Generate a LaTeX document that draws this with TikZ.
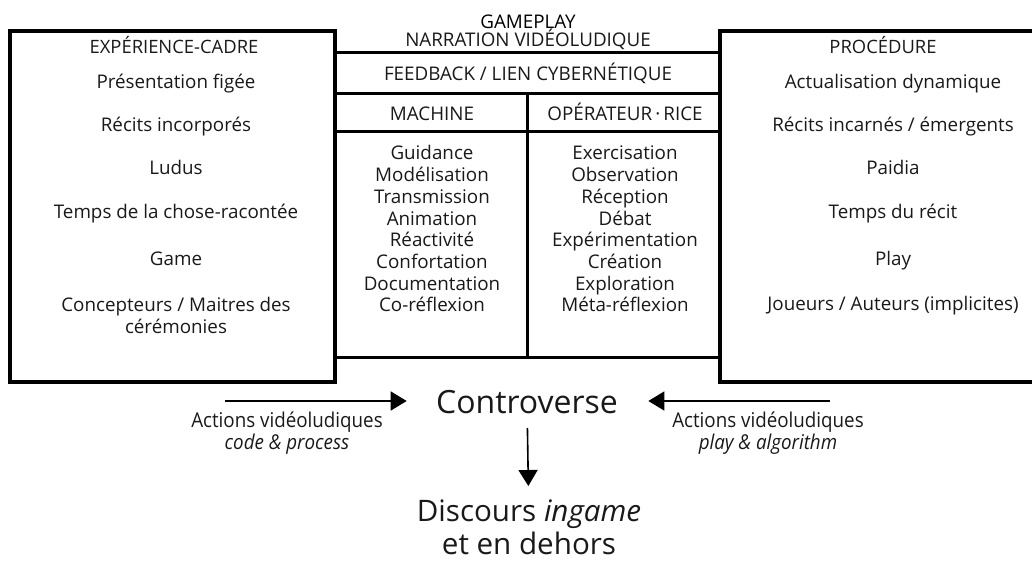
\documentclass[tikz,border=0pt]{standalone}
\usepackage{fontspec}
\setmainfont{Open Sans}
\newfontfamily\condfont[FakeStretch=0.92]{Open Sans}
\usetikzlibrary{arrows.meta,positioning}
\tikzstyle{frame} = [line width=2pt]
\tikzstyle{rule}  = [line width=1.5pt]
\tikzstyle{item}  = [inner sep=0pt, text=black!90, text height=8.5pt, text depth=1.5pt, font=\fontsize{9.4}{10.85}\selectfont]
\tikzstyle{head}  = [item, font=\fontsize{9.2}{10}\selectfont]
\tikzstyle{act}   = [inner sep=0pt, text=black!90, align=center, font=\condfont\fontsize{10.2}{10}\selectfont]
\tikzstyle{big}   = [inner sep=0pt, text=black!90, align=center, font=\fontsize{16}{16.5}\selectfont]
\tikzstyle{arrow} = [line width=0.8pt, -{Triangle[length=8pt,width=9.5pt]}]

\begin{document}
\begin{tikzpicture}[x=0.5pt,y=-0.5pt]
	\useasboundingbox (0,0) rectangle (1032,561);
	\clip (0,0) rectangle (1032,561);
	% frames
	\draw[frame] (10,31) rectangle (335,382);
	\draw[frame] (720,31) rectangle (1080,382);
	\foreach \y in {53,94,132,357}
		\draw[rule] (335,\y) -- (720,\y);
	\draw[rule] (527,94) -- (527,357);
	% middle headers
	\node[item, text=black] (gameplay) at (528,22) {GAMEPLAY};
	\node[item] (narration) at (528,40) {NARRATION VIDÉOLUDIQUE};
	\node[item] (feedback) at (528,74) {FEEDBACK / LIEN CYBERNÉTIQUE};
	\node[item] (machine) at (432,114) {MACHINE};
	\node[item] (operateur) at (625,114) {OPÉRATEUR\,·\,RICE};
	\foreach \w [count=\i from 0] in {Guidance,Modélisation,Transmission,Animation,
			Réactivité,Confortation,Documentation,Co-réflexion}
		\node[item] (m\i) at (432,153+21.7*\i) {\w};
	\foreach \w [count=\i from 0] in {Exercisation,Observation,Réception,Débat,
			Expérimentation,Création,Exploration,Méta-réflexion}
		\node[item] (o\i) at (625,153+21.7*\i) {\w};
	% left box
	\node[head] (cadre) at (174,47) {EXPÉRIENCE-CADRE};
	\node[item] (l1) at (176,82) {Présentation figée};
	\node[item] (l2) at (176,125) {Récits incorporés};
	\node[item] (l3) at (176,168) {Ludus};
	\node[item] (l4) at (176,212) {Temps de la chose-racontée};
	\node[item] (l5) at (176,258) {Game};
	\node[item, align=center] (l6) at (176,326) {Concepteurs / Maitres des\\cérémonies};
	% right box
	\node[head] (procedure) at (883,47) {PROCÉDURE};
	\node[item] (r1) at (893,82) {Actualisation dynamique};
	\node[item] (r2) at (893,125) {Récits incarnés / émergents};
	\node[item] (r3) at (893,168) {Paidia};
	\node[item] (r4) at (893,212) {Temps du récit};
	\node[item] (r5) at (893,258) {Play};
	\node[item] (r6) at (893,303) {Joueurs / Auteurs (implicites)};
	% bottom
	\node[big] (contro) at (527,402) {Controverse};
	\node[big, font=\fontsize{14.8}{16.5}\selectfont] (discours) at (529,527) {Discours \textit{ingame}\\et en dehors};
	\node[act] (lact) at (287,433) {Actions vidéoludiques\\\textit{code \& process}};
	\node[act] (ract) at (768,433) {Actions vidéoludiques\\\textit{play \& algorithm}};
	\coordinate (ltail) at (225,401);
	\coordinate (rtail) at (830,401);
	\draw[arrow, shorten >=14.5pt] (ltail) -- (ltail -| contro.west);
	\draw[arrow, shorten >=15pt] (rtail) -- (rtail -| contro.east);
	\draw[arrow, shorten <=13pt, shorten >=20.5pt] (contro.center) -- (discours.center);
\end{tikzpicture}
\end{document}
